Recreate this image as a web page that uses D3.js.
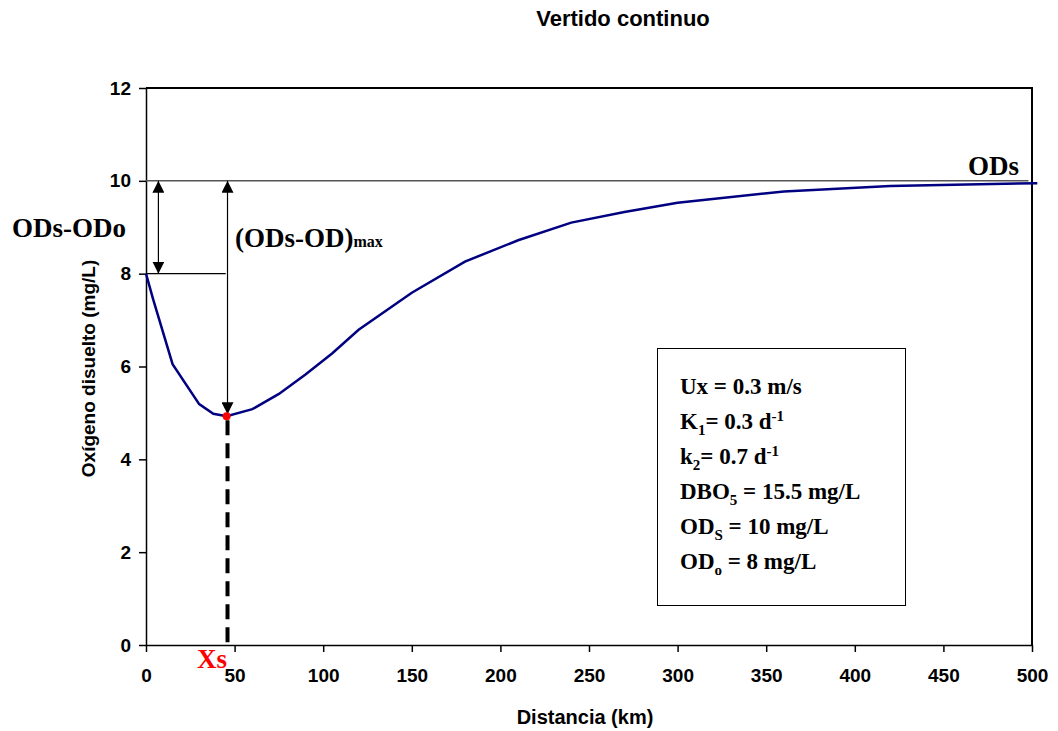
<!DOCTYPE html>
<html>
<head>
<meta charset="utf-8">
<script src="https://cdn.jsdelivr.net/npm/d3@7"></script>
<style>
body { margin: 0; background: #fff; }
.axis text { font-family: "Liberation Sans", Arial, sans-serif; font-weight: bold; font-size: 19px; fill: #000; }
.axis path, .axis line { stroke: #000; stroke-width: 1.5; }
.lbl { font-family: "Liberation Serif", "Times New Roman", serif; font-weight: bold; }
</style>
</head>
<body>
<div id="chart"></div>
<script>
// data
var distKm = [0, 4, 15, 30, 38, 45.5, 60, 75, 90, 105, 120, 150, 180, 210, 240, 270, 300, 360, 420, 503];
var odVals = [8, 7.45, 6.05, 5.19, 4.98, 4.93, 5.08, 5.41, 5.83, 6.28, 6.79, 7.59, 8.26, 8.72, 9.10, 9.33, 9.53, 9.77, 9.89, 9.95];
var xTicks = [0, 50, 100, 150, 200, 250, 300, 350, 400, 450, 500];
var yTicks = [0, 2, 4, 6, 8, 10, 12];
var odSat = 10, odInit = 8, xCrit = 46, odMin = 4.93;
var paramLines = [
    [["Ux = 0.3 m/s", ""]],
    [["K", ""], ["1", "sub"], ["= 0.3 d", ""], ["-1", "sup"]],
    [["k", ""], ["2", "sub"], ["= 0.7 d", ""], ["-1", "sup"]],
    [["DBO", ""], ["5", "sub"], [" = 15.5 mg/L", ""]],
    [["OD", ""], ["S", "sub"], [" = 10 mg/L", ""]],
    [["OD", ""], ["o", "sub"], [" = 8 mg/L", ""]]
];

var W = 1058, H = 731;
var pLeft = 146, pRight = 1032, pTop = 88, pBottom = 645;

var svg = d3.select("#chart").append("svg")
    .attr("width", W)
    .attr("height", H);

var defs = svg.append("defs");
defs.append("marker")
    .attr("id", "head")
    .attr("viewBox", "0 0 12 12")
    .attr("refX", 12).attr("refY", 6)
    .attr("markerWidth", 12).attr("markerHeight", 12)
    .attr("markerUnits", "userSpaceOnUse")
    .attr("orient", "auto-start-reverse")
    .append("path")
    .attr("d", "M0,0 L12,6 L0,12 Z")
    .attr("fill", "#000");

var x = d3.scaleLinear().domain([0, 500]).range([pLeft, pRight]);
var y = d3.scaleLinear().domain([0, 12]).range([pBottom, pTop]);

// plot frame (top + right)
svg.append("path")
    .attr("d", "M" + pLeft + "," + pTop + "H" + pRight + "V" + pBottom)
    .attr("fill", "none")
    .attr("stroke", "#000")
    .attr("stroke-width", 2);

// axes
svg.append("g")
    .attr("class", "axis")
    .attr("transform", "translate(0," + pBottom + ")")
    .call(d3.axisBottom(x).tickValues(xTicks).tickSize(7).tickPadding(17).tickSizeOuter(0));

svg.append("g")
    .attr("class", "axis")
    .attr("transform", "translate(" + pLeft + ",0)")
    .call(d3.axisLeft(y).tickValues(yTicks).tickSize(7).tickPadding(8).tickSizeOuter(0));

// ODs saturation line
svg.append("line")
    .attr("x1", x(0)).attr("x2", x(498))
    .attr("y1", y(odSat)).attr("y2", y(odSat))
    .attr("stroke", "#555").attr("stroke-width", 1.5);

// ODo level line
svg.append("line")
    .attr("x1", x(0)).attr("x2", x(45))
    .attr("y1", y(odInit)).attr("y2", y(odInit))
    .attr("stroke", "#000").attr("stroke-width", 1.2);

// double arrows
svg.append("line")
    .attr("x1", x(7)).attr("x2", x(7))
    .attr("y1", y(odSat)).attr("y2", y(odInit))
    .attr("stroke", "#000").attr("stroke-width", 1.2)
    .attr("marker-start", "url(#head)")
    .attr("marker-end", "url(#head)");

svg.append("line")
    .attr("x1", x(xCrit)).attr("x2", x(xCrit))
    .attr("y1", y(odSat)).attr("y2", y(odMin) - 2)
    .attr("stroke", "#000").attr("stroke-width", 1.2)
    .attr("marker-start", "url(#head)")
    .attr("marker-end", "url(#head)");

// critical distance dashed line
svg.append("line")
    .attr("x1", x(xCrit)).attr("x2", x(xCrit))
    .attr("y1", y(odMin) + 4).attr("y2", y(0))
    .attr("stroke", "#000").attr("stroke-width", 4)
    .attr("stroke-dasharray", "15,8");

// OD curve
var pts = distKm.map(function(d, i) { return [d, odVals[i]]; });
svg.append("path")
    .datum(pts)
    .attr("fill", "none")
    .attr("stroke", "#000080")
    .attr("stroke-width", 2.5)
    .attr("d", d3.line()
        .x(function(d) { return x(d[0]); })
        .y(function(d) { return y(d[1]); }));

svg.append("circle")
    .attr("cx", x(45.5)).attr("cy", y(odMin))
    .attr("r", 4)
    .attr("fill", "#ff0000");

// labels
svg.append("text")
    .attr("x", 623).attr("y", 26)
    .attr("text-anchor", "middle")
    .style("font-family", "Liberation Sans, Arial, sans-serif")
    .style("font-weight", "bold").style("font-size", "22px")
    .text("Vertido continuo");

svg.append("text")
    .attr("x", (pLeft + pRight) / 2 - 4).attr("y", 724)
    .attr("text-anchor", "middle")
    .style("font-family", "Liberation Sans, Arial, sans-serif")
    .style("font-weight", "bold").style("font-size", "20px")
    .text("Distancia (km)");

svg.append("text")
    .attr("transform", "translate(95," + ((pTop + pBottom) / 2 + 2) + ") rotate(-90)")
    .attr("text-anchor", "middle")
    .style("font-family", "Liberation Sans, Arial, sans-serif")
    .style("font-weight", "bold").style("font-size", "19px")
    .text("Oxígeno disuelto (mg/L)");

svg.append("text")
    .attr("class", "lbl")
    .attr("x", 12).attr("y", 237)
    .style("font-size", "27px")
    .text("ODs-ODo");

var maxLbl = svg.append("text")
    .attr("class", "lbl")
    .attr("x", 235).attr("y", 247)
    .style("font-size", "27px");
maxLbl.append("tspan").text("(ODs-OD)");
maxLbl.append("tspan").style("font-size", "16px").text("max");

svg.append("text")
    .attr("class", "lbl")
    .attr("x", 1019).attr("y", 175)
    .attr("text-anchor", "end")
    .style("font-size", "27px")
    .text("ODs");

svg.append("text")
    .attr("class", "lbl")
    .attr("x", 197).attr("y", 668)
    .attr("fill", "#ff0000")
    .style("font-size", "27px")
    .text("Xs");

// parameter box
svg.append("rect")
    .attr("x", 657.5).attr("y", 348.5)
    .attr("width", 248).attr("height", 257)
    .attr("fill", "#fff")
    .attr("stroke", "#000").attr("stroke-width", 1);

paramLines.forEach(function(parts, i) {
    var t = svg.append("text")
        .attr("class", "lbl")
        .attr("x", 680).attr("y", 394 + i * 35)
        .style("font-size", "23px");
    parts.forEach(function(p, j) {
        var s = t.append("tspan").text(p[0]);
        if (p[1] === "sub") s.attr("dy", 6).style("font-size", "15px");
        if (p[1] === "sup") s.attr("dy", -8).style("font-size", "15px");
        if (p[1] === "" && j > 0) {
            // back to the baseline after a shifted piece
            if (parts[j - 1][1] === "sub") s.attr("dy", -6);
            if (parts[j - 1][1] === "sup") s.attr("dy", 8);
        }
    });
});
</script>
</body>
</html>
